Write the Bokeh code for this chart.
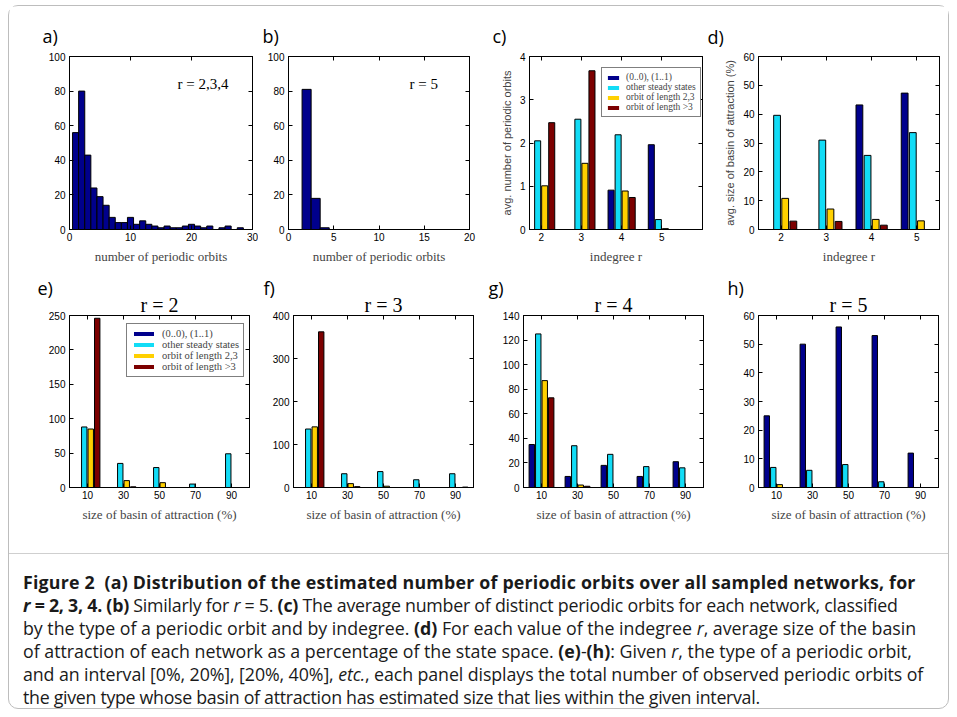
from bokeh.plotting import figure
from bokeh.models import Range1d, FixedTicker, LinearAxis, Label, Legend, LegendItem, Div, ColumnDataSource, Title
from bokeh.layouts import row, column
from bokeh.transform import dodge
from bokeh.embed import file_html
from bokeh.resources import INLINE

NAVY = "#00008C"
CYAN = "#12DCF6"
YELLOW = "#FFD000"
MAROON = "#7C0000"
COLORS = [NAVY, CYAN, YELLOW, MAROON]

# ---------------- data ----------------
hist_a_centers = list(range(1, 30))
hist_a_counts = [56, 80, 43, 24, 19, 14, 7, 4, 4, 7, 3, 5, 3, 2, 1, 2, 1, 1, 2, 3, 2, 1, 2, 0, 1, 2, 0, 1, 0]
hist_b_centers = [2, 3, 4]
hist_b_counts = [81, 18, 1]

series_names = ["(0..0), (1..1)", "other steady states", "orbit of length 2,3", "orbit of length >3"]

indegree = [2, 3, 4, 5]
c_fixed = [0, 0, 0.91, 1.96]
c_other = [2.05, 2.55, 2.19, 0.23]
c_len23 = [1.01, 1.53, 0.89, 0.02]
c_long = [2.47, 3.67, 0.74, 0]

d_fixed = [0, 0, 43.2, 47.3]
d_other = [39.6, 31.0, 25.7, 33.6]
d_len23 = [10.8, 7.1, 3.5, 3.0]
d_long = [2.9, 2.8, 1.5, 0]

basin_bins = [10, 30, 50, 70, 90]
e_fixed = [0, 0, 0, 0, 0]
e_other = [88, 35, 29, 5, 49]
e_len23 = [85, 10, 7, 0, 0]
e_long = [246, 1, 0, 0, 0]

f_fixed = [0, 0, 0, 0, 0]
f_other = [136, 32, 37, 18, 32]
f_len23 = [141, 9, 3, 0, 0]
f_long = [362, 2, 0, 0, 1]

g_fixed = [35, 9, 18, 9, 21]
g_other = [125, 34, 27, 17, 16]
g_len23 = [87, 2, 0, 0, 0]
g_long = [73, 1, 0, 0, 0]

h_fixed = [25, 50, 56, 53, 12]
h_other = [7, 6, 8, 2, 0]
h_len23 = [1, 0, 0, 0, 0]
h_long = [0, 0, 0, 0, 0]

TICK_FONT = "Liberation Sans"
SERIF = "Liberation Serif"


def make_fig(fw, fh, bl, br, bt, bb, xr, yr, xticks, yticks, xlabel=None, ylabel=None):
    p = figure(frame_width=fw, frame_height=fh,
               min_border_left=bl, min_border_right=br, min_border_top=bt, min_border_bottom=bb,
               x_range=Range1d(*xr), y_range=Range1d(*yr),
               output_backend="svg", toolbar_location=None,
               x_axis_location=None, y_axis_location=None)
    p.grid.visible = False
    p.outline_line_color = "black"
    p.outline_line_width = 1
    p.background_fill_color = "white"
    p.border_fill_color = "white"
    for loc, ticks, is_x in (("below", xticks, True), ("left", yticks, False),
                             ("above", xticks, True), ("right", yticks, False)):
        ax = LinearAxis(ticker=FixedTicker(ticks=ticks))
        ax.major_tick_in = 4
        ax.major_tick_out = 0
        ax.minor_tick_line_color = None
        ax.axis_line_color = "black"
        ax.major_tick_line_color = "black"
        ax.major_label_text_font = TICK_FONT
        ax.major_label_text_font_size = "10px"
        ax.major_label_text_color = "black"
        ax.major_label_standoff = 3 if is_x else 4
        if loc in ("above", "right"):
            ax.major_label_overrides = {t: "" for t in ticks}
            ax.major_label_standoff = 0
        if loc == "below" and xlabel:
            ax.axis_label = xlabel
            ax.axis_label_text_font = SERIF
            ax.axis_label_text_font_size = "13px"
            ax.axis_label_text_font_style = "normal"
            ax.axis_label_standoff = 5
        if loc == "left" and ylabel:
            ax.axis_label = ylabel
            ax.axis_label_text_font = TICK_FONT
            ax.axis_label_text_font_size = "11px"
            ax.axis_label_text_font_style = "normal"
            ax.axis_label_standoff = 4
        p.add_layout(ax, loc)
    return p


def tag(p, text, offset, standoff):
    p.add_layout(Title(text=text, align="left", offset=offset, standoff=standoff,
                       text_font="Open Sans", text_font_size="18px", text_font_style="normal",
                       text_color="black"), "above")


def heading(p, text, standoff):
    p.add_layout(Title(text=text, align="center", standoff=standoff,
                       text_font=SERIF, text_font_size="20px", text_font_style="normal",
                       text_color="black"), "above")


def inner_text(p, text, x, y):
    p.add_layout(Label(x=x, y=y, x_units="screen", y_units="screen", text=text,
                       text_font=SERIF, text_font_size="15px", text_baseline="middle",
                       text_align="left", text_color="black"))


def grouped(p, cats, series, slot, width, legend=None):
    src = ColumnDataSource(dict(x=cats, s0=series[0], s1=series[1], s2=series[2], s3=series[3]))
    offs = [-1.5 * slot, -0.5 * slot, 0.5 * slot, 1.5 * slot]
    swatches = []
    for i, (col, off) in enumerate(zip(COLORS, offs)):
        p.vbar(x=dodge("x", off, range=p.x_range), top="s%d" % i, bottom=0, width=width,
               source=src, fill_color=col, line_color="black", line_width=1)
        if legend is not None:
            # hidden twin renderer, used only for a solid legend swatch without outline
            sw = p.vbar(x=dodge("x", off, range=p.x_range), top="s%d" % i, bottom=0, width=width,
                        source=src, fill_color=col, line_color=None, visible=False)
            swatches.append(sw)
    if legend is not None:
        loc, gw, gh, fs, lh = legend
        lg = Legend(items=[LegendItem(label=n, renderers=[r]) for n, r in zip(series_names, swatches)],
                    location=loc, orientation="vertical")
        lg.label_text_font = SERIF
        lg.label_text_font_size = fs
        lg.glyph_width = gw
        lg.glyph_height = gh
        lg.label_height = lh
        lg.label_standoff = 6
        lg.spacing = 0
        lg.padding = 4
        lg.margin = 0
        lg.border_line_color = "black"
        lg.border_line_width = 1
        lg.background_fill_alpha = 1
        lg.inactive_fill_alpha = 0
        p.add_layout(lg)


# ---------------- row 1 ----------------
pa = make_fig(183, 173, 60, 6, 50, 41, (0, 30), (0, 100), [0, 10, 20, 30], [0, 20, 40, 60, 80, 100],
              xlabel="number of periodic orbits")
pa.vbar(x=hist_a_centers, top=hist_a_counts, width=1.0, fill_color=NAVY, line_color="black")
tag(pa, "a)", -27, 18)
inner_text(pa, "r = 2,3,4", 108, 146)

pb = make_fig(181, 173, 30, 18, 50, 41, (0, 20), (0, 100), [0, 5, 10, 15, 20], [0, 20, 40, 60, 80, 100],
              xlabel="number of periodic orbits")
pb.vbar(x=hist_b_centers, top=hist_b_counts, width=1.0, fill_color=NAVY, line_color="black")
tag(pb, "b)", -26, 18)
inner_text(pb, "r = 5", 121, 146)

pc = make_fig(173, 173, 42, 3, 50, 41, (1.71, 6.01), (0, 4), indegree, [0, 1, 2, 3, 4],
              xlabel="indegree r", ylabel="avg. number of periodic orbits")
grouped(pc, indegree, [c_fixed, c_other, c_len23, c_long], 0.175, 0.15,
        legend=((72, 112), 14, 5, "9.5px", 10))
tag(pc, "c)", -37, 18)

pd = make_fig(181, 173, 53, 9, 50, 41, (1.5, 5.5), (0, 60), indegree, [0, 10, 20, 30, 40, 50, 60],
              xlabel="indegree r", ylabel="avg. size of basin of attraction (%)")
grouped(pd, indegree, [d_fixed, d_other, d_len23, d_long], 0.18, 0.15)
tag(pd, "d)", -51, 15)

# ---------------- row 2 ----------------
XL2 = "size of basin of attraction (%)"
pe = make_fig(180, 172, 60, 9, 45, 43, (0, 100), (0, 250), basin_bins, [0, 50, 100, 150, 200, 250], xlabel=XL2)
grouped(pe, basin_bins, [e_fixed, e_other, e_len23, e_long], 3.6, 3.0,
        legend=((57, 110), 25, 5, "10.5px", 11))
heading(pe, "r = 2", 0)
tag(pe, "e)", -32, -17)

pf = make_fig(180, 172, 35, 12, 45, 43, (0, 100), (0, 400), basin_bins, [0, 100, 200, 300, 400], xlabel=XL2)
grouped(pf, basin_bins, [f_fixed, f_other, f_len23, f_long], 3.6, 3.0)
heading(pf, "r = 3", 0)
tag(pf, "f)", -30, -17)

pg = make_fig(180, 172, 38, 9, 45, 43, (0, 100), (0, 140), basin_bins, [0, 20, 40, 60, 80, 100, 120, 140], xlabel=XL2)
grouped(pg, basin_bins, [g_fixed, g_other, g_len23, g_long], 3.6, 3.0)
heading(pg, "r = 4", 0)
tag(pg, "g)", -35, -17)

ph = make_fig(180, 172, 46, 10, 45, 43, (0, 100), (0, 60), basin_bins, [0, 10, 20, 30, 40, 50, 60], xlabel=XL2)
grouped(ph, basin_bins, [h_fixed, h_other, h_len23, h_long], 3.6, 3.0)
heading(ph, "r = 5", 0)
tag(ph, "h)", -31, -17)

caption_lines = [
    ("0.2px", "<b>Figure 2&nbsp;&nbsp;(a) Distribution of the estimated number of periodic orbits over all sampled networks, for</b>"),
    ("-0.24px", "<b><i>r</i> = 2, 3, 4. (b)</b> Similarly for <i>r</i> = 5. <b>(c)</b> The average number of distinct periodic orbits for each network, classified"),
    ("-0.02px", "by the type of a periodic orbit and by indegree. <b>(d)</b> For each value of the indegree <i>r</i>, average size of the basin"),
    ("-0.01px", "of attraction of each network as a percentage of the state space. <b>(e)</b>-<b>(h)</b>: Given <i>r</i>, the type of a periodic orbit,"),
    ("-0.09px", "and an interval [0%, 20%], [20%, 40%], <i>etc.</i>, each panel displays the total number of observed periodic orbits of"),
    ("-0.3px", "the given type whose basin of attraction has estimated size that lies within the given interval."),
]
caption_html = (
    "<div style=\"width:939px; box-sizing:border-box; border-top:1px solid #cfcfcf; margin-top:23px; "
    "padding:17px 0 0 14px; font-family:'Open Sans'; font-size:17.8px; line-height:23px; "
    "white-space:nowrap; color:#1a1a1a;\">"
    + "<br>".join("<span style=\"letter-spacing:%s\">%s</span>" % (ls, t) for ls, t in caption_lines)
    + "</div>"
)
cap = Div(text=caption_html, width=939, height=178, margin=0)

layout = column(row(pa, pb, pc, pd), row(pe, pf, pg, ph), cap,
                margin=(5, 0, 0, 8),
                styles={"border": "1px solid #bdbdbd", "border-radius": "10px", "background": "white"})

with open("out.html", "w") as fh:
    fh.write(file_html(layout, INLINE))
